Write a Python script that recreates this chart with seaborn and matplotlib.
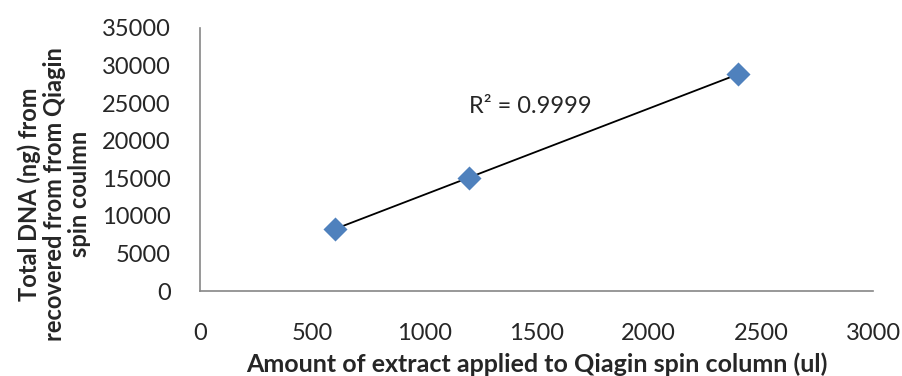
import matplotlib
matplotlib.use("Agg")
import matplotlib.pyplot as plt
import seaborn as sns
import pandas as pd

extract_ul = [600, 1200, 2400]
dna_ng = [8300, 15000, 28900]
x_ticks = [0, 500, 1000, 1500, 2000, 2500, 3000]
y_ticks = [0, 5000, 10000, 15000, 20000, 25000, 30000, 35000]
r2_label = "R² = 0.9999"
x_label = "Amount of extract applied to Qiagin spin column (ul)"
y_label = "Total DNA (ng) from\nrecovered from from Qiagin\nspin coulmn"

df = pd.DataFrame({"x": extract_ul, "y": dna_ng})

sns.set_style("white")
plt.rcParams["font.family"] = ["Lato", "DejaVu Sans"]

fig = plt.figure(figsize=(9.03, 3.76), dpi=100)
ax = fig.add_axes([200/903, 1-291/376, (873-200)/903, (291-28)/376])

sns.regplot(data=df, x="x", y="y", ax=ax, ci=None, scatter=False,
            line_kws=dict(color="black", lw=1.3), truncate=True)
sns.scatterplot(data=df, x="x", y="y", ax=ax, marker="D", s=150,
                color="#4F81BD", edgecolor="#4F81BD", linewidth=0, zorder=3)

ax.set_xlim(0, 3000)
ax.set_ylim(0, 35000)
ax.set_xticks(x_ticks)
ax.set_yticks(y_ticks)
ax.tick_params(axis="both", direction="out", length=8, width=1.2,
               color="#868686", labelsize=17)
ax.tick_params(axis="y", pad=13)
ax.tick_params(axis="x", pad=15)
for s in ["top", "right"]:
    ax.spines[s].set_visible(False)
for s in ["left", "bottom"]:
    ax.spines[s].set_color("#868686")
    ax.spines[s].set_linewidth(1.2)

ax.set_xlabel(x_label, fontsize=18, fontweight="bold")
ax.xaxis.set_label_coords(0.5, (291-372)/263)
ax.xaxis.label.set_va("baseline")
ax.set_ylabel(y_label, fontsize=17, fontweight="bold", linespacing=1.12,
              va="center")
ax.yaxis.set_label_coords((54-200)/673, (291-194)/263)
ax.text(1200, 23690, r2_label, fontsize=17, va="baseline", ha="left")

fig.savefig("out.png", dpi=100)
